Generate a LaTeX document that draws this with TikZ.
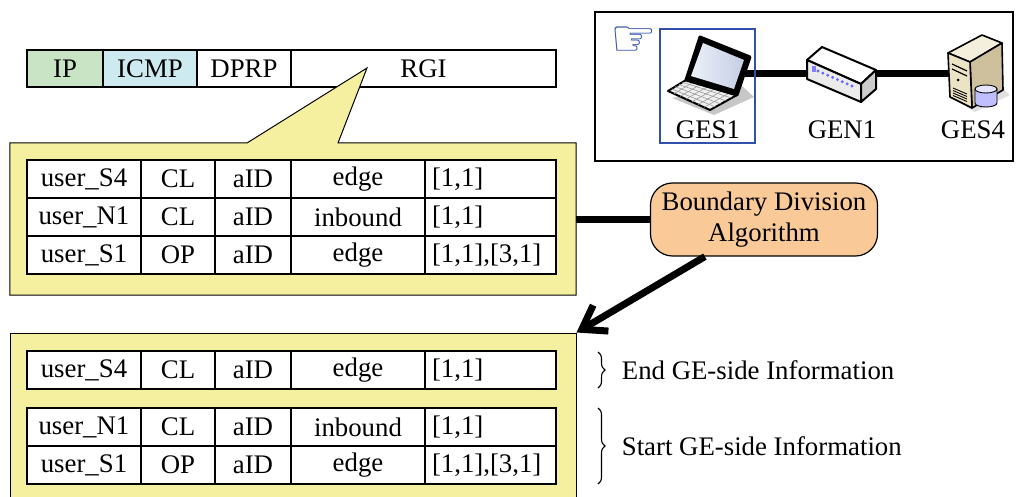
\documentclass[tikz,border=0pt]{standalone}
\usepackage{fontspec}
\setmainfont{Liberation Serif}
\newfontfamily\symfont{DejaVu Sans}
\usetikzlibrary{positioning,calc,arrows.meta,decorations.pathreplacing}
\definecolor{panelyellow}{RGB}{245,240,160}
\definecolor{algorange}{RGB}{249,201,151}
\definecolor{ipgreen}{RGB}{200,228,196}
\definecolor{icmpcyan}{RGB}{204,234,240}
\definecolor{selblue}{RGB}{48,80,170}
\definecolor{srvfront}{RGB}{236,226,196}
\definecolor{srvside}{RGB}{206,192,156}
\definecolor{lcdlight}{RGB}{236,240,248}
\definecolor{lcddark}{RGB}{196,206,228}

\begin{document}
\begin{tikzpicture}[x=1pt,y=-1pt,font=\fontsize{26.8}{31}\selectfont,
  cell/.style={draw,line width=1.2pt,minimum height=38pt,inner sep=0pt,fill=white},
  lastcell/.style={cell,minimum width=131pt,text width=117pt,align=left},
  panel/.style={draw,line width=1pt,fill=panelyellow},
  heavy/.style={line width=7pt},
  icon/.style={draw,line width=2pt,line join=round},
  brc/.style={decorate,decoration={brace,amplitude=7pt},line width=1.1pt}]
\useasboundingbox (0,0) rectangle (1018,497);

% packet header
\foreach \n/\x/\w/\c/\t in {ip/65/76/ipgreen/IP,icmp/150/94/icmpcyan/ICMP,
  dprp/244/94/white/DPRP,rgi/423.5/265/white/RGI} {
  \node[cell,fill=\c,minimum width=\w,minimum height=37pt] (\n) at (\x,68.5) {\t};
}

% callout with the RGI table
\node[minimum width=566pt,minimum height=152pt,inner sep=0pt] (tabA) at (293,219) {};
\draw[panel] (tabA.north west) -- (247,143) -- (367,68) -- (338,143)
   -- (tabA.north east) -- (tabA.south east) -- (tabA.south west) -- cycle;
\foreach \r/\y/\u/\s/\k/\v in {1/179/S4/CL/edge/{[1,1]},
  2/217/N1/CL/inbound/{[1,1]},3/255/S1/OP/edge/{[1,1],[3,1]}} {
  \node[cell,minimum width=114pt] (a\r u) at (84,\y) {user\_\u};
  \node[cell,minimum width=74pt] (a\r s) at (178,\y) {\s};
  \node[cell,minimum width=76pt] (a\r i) at (253,\y) {aID};
  \node[cell,minimum width=134pt] (a\r k) at (358,\y) {\k};
  \node[lastcell] (a\r v) at (490.5,\y) {\v};
}

% algorithm
\node[draw,line width=1.2pt,fill=algorange,rounded corners=22pt,minimum width=227pt,
  minimum height=73pt,align=center,inner sep=0pt] (alg) at (764,219.5)
  {Boundary Division\\[0pt]Algorithm};
\draw[heavy] (tabA.east |- alg.west) -- (alg.west);

% divided table
\node[panel,minimum width=566pt,minimum height=170pt,inner sep=0pt] (tabB) at (293,418) {};
\draw[heavy,-{Straight Barb[length=22pt,width=30pt]}] (alg.south west) ++(55,0) coordinate (go)
  (go) -- (tabB.north east);
\foreach \r/\y/\u/\s/\k/\v in {1/370/S4/CL/edge/{[1,1]},
  2/427/N1/CL/inbound/{[1,1]},3/465/S1/OP/edge/{[1,1],[3,1]}} {
  \node[cell,minimum width=114pt] (b\r u) at (84,\y) {user\_\u};
  \node[cell,minimum width=74pt] (b\r s) at (178,\y) {\s};
  \node[cell,minimum width=76pt] (b\r i) at (253,\y) {aID};
  \node[cell,minimum width=134pt] (b\r k) at (358,\y) {\k};
  \node[lastcell] (b\r v) at (490.5,\y) {\v};
}
\coordinate (e1) at (598,352); \coordinate (e2) at (598,388);
\coordinate (s1) at (598,408); \coordinate (s2) at (598,484);
\draw[brc] (e1) -- (e2) node[midway,right=20pt] (endinfo) {End GE-side Information};
\draw[brc] (s1) -- (s2) node[midway,right=20pt] (startinfo) {Start GE-side Information};

% network
\node[draw,line width=1.5pt,minimum width=418pt,minimum height=149pt] (net) at (804,86.5) {};
\coordinate (lap) at (738,74); \coordinate (srv) at (960,74);
\draw[heavy] (lap) -- (srv);
% laptop
\fill[black!22] (672,98) -- (714,115) -- (754,97) -- (742,86) -- cycle;
\draw[icon,fill=black!6] (686,80) -- (737,95) -- (710,110) -- (668,91) -- cycle;
\foreach \k in {1,...,4} {
  \draw[black!40,line width=0.6pt] ($(686,80)!\k/5!(668,91)$) -- ($(737,95)!\k/5!(710,110)$);
}
\foreach \k in {1,...,6} {
  \draw[black!40,line width=0.6pt] ($(686,80)!\k/7!(737,95)$) -- ($(668,91)!\k/7!(710,110)$);
}
\draw[icon,line width=3pt,fill=black] (700,37) -- (750,57) -- (737,95) -- (686,80) -- cycle;
\fill[left color=lcdlight,right color=lcddark] (703,43) -- (744,60) -- (734,89) -- (691,76) -- cycle;
% switch
\draw[icon,fill=white] (807,60) -- (822,47) -- (876,70) -- (861,84) -- cycle;
\draw[icon,fill=black!8] (807,60) -- (861,84) -- (861,102) -- (807,79) -- cycle;
\draw[icon,fill=black!20] (861,84) -- (876,70) -- (876,89) -- (861,102) -- cycle;
\foreach \k in {0,...,7} {
  \fill[blue!60] ($(818,71)!\k/7!(852,86)$) circle (1.6pt);
}
\fill[blue!50] (812,66) rectangle (816,72);
% server
\fill[black!12] (955,100) -- (975,112) -- (1010,95) -- (1000,86) -- cycle;
\draw[icon,line width=1.6pt,fill=srvfront!60] (948,53) -- (982,35) -- (1002,43) -- (970,62) -- cycle;
\draw[icon,line width=1.6pt,fill=srvside] (970,62) -- (1002,43) -- (1003,90) -- (972,108) -- cycle;
\draw[icon,line width=1.6pt,fill=srvfront] (948,53) -- (970,62) -- (972,108) -- (950,97) -- cycle;
\foreach \k in {0,1} {
  \draw[line width=1.2pt] (952,64+5*\k) -- (967,71+5*\k);
}
\foreach \k in {0,...,3} {
  \draw[line width=0.9pt] (953,88+2.5*\k) -- (967,94+2.5*\k);
}
\fill (958,80) circle (1.5pt);
\draw[line width=0.9pt,fill=blue!25] (975,89) -- (975,103) arc[start angle=180,end angle=360,x radius=11pt,y radius=4pt]
  -- (997,89);
\draw[line width=0.9pt,fill=blue!10] (986,89) ellipse[x radius=11pt,y radius=4pt];
\node (ges1) at (708,130) {GES1};
\node (gen1) at (842,130) {GEN1};
\node (ges4) at (973,130) {GES4};
\node[draw=selblue,line width=1.2pt,minimum width=95pt,minimum height=114pt] (sel) at (707.5,86) {};
\node[text=selblue,font=\symfont\fontsize{52}{52}\selectfont,inner sep=0pt] (hand) at (634,42) {☞};
\end{tikzpicture}
\end{document}
